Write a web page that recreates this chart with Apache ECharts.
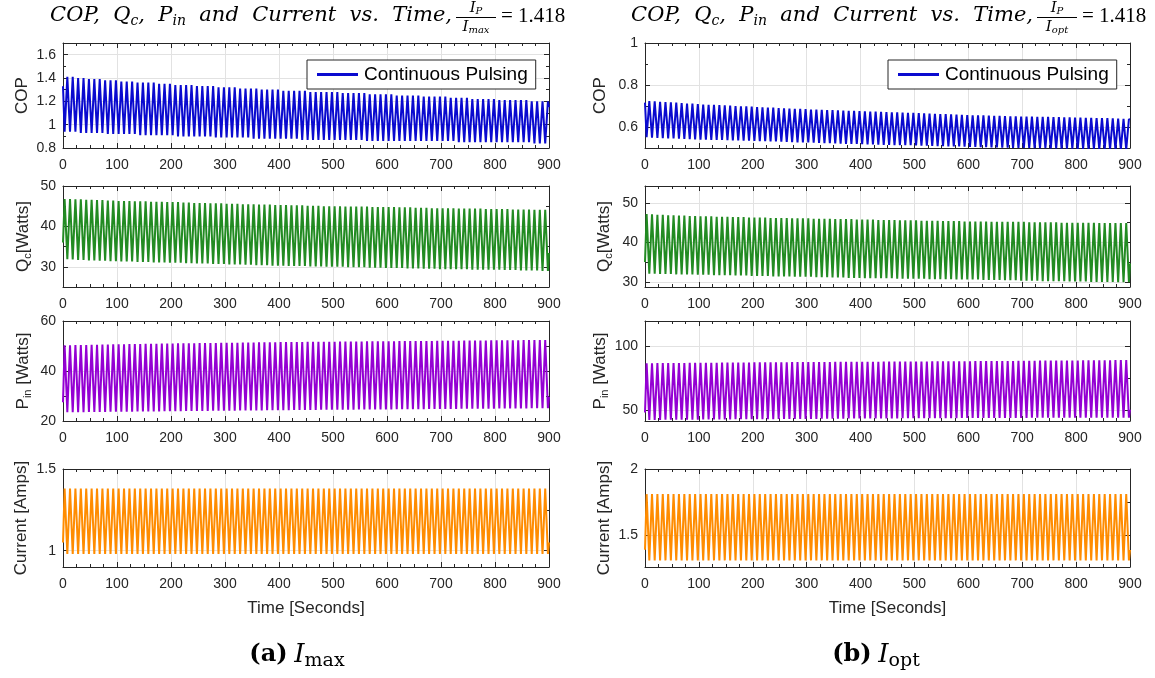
<!DOCTYPE html>
<html>
<head>
<meta charset="utf-8">
<script src="https://cdn.jsdelivr.net/npm/echarts@6/dist/echarts.min.js"></script>
<style>
  html, body { margin: 0; padding: 0; background: #fff; }
  #chart { width: 1155px; height: 678px; }
</style>
</head>
<body>
<div id="chart"></div>
<script>
// each pulse cycle lasts 10 s: one extreme at +3 s, the other at +8 s
const cycleLength = 10
const timeEnd = 900

// ---- (a) I_max ----
// COP: trough first, then peak
const copLowA = [
  0.94, 0.94, 0.94, 0.93, 0.93, 0.93, 0.93, 0.93, 0.92, 0.92,
  0.92, 0.92, 0.92, 0.92, 0.91, 0.91, 0.91, 0.91, 0.91, 0.91,
  0.91, 0.90, 0.90, 0.90, 0.90, 0.90, 0.90, 0.90, 0.89, 0.89,
  0.89, 0.89, 0.89, 0.89, 0.89, 0.88, 0.88, 0.88, 0.88, 0.88,
  0.88, 0.88, 0.88, 0.88, 0.87, 0.87, 0.87, 0.87, 0.87, 0.87,
  0.87, 0.87, 0.87, 0.87, 0.87, 0.87, 0.86, 0.86, 0.86, 0.86,
  0.86, 0.86, 0.86, 0.86, 0.86, 0.86, 0.86, 0.86, 0.86, 0.86,
  0.86, 0.86, 0.86, 0.85, 0.85, 0.85, 0.85, 0.85, 0.85, 0.85,
  0.85, 0.85, 0.85, 0.85, 0.85, 0.85, 0.85, 0.84, 0.84, 0.84
]
const copTopA = [
  1.41, 1.41, 1.40, 1.40, 1.39, 1.39, 1.39, 1.38, 1.38, 1.38,
  1.37, 1.37, 1.37, 1.36, 1.36, 1.36, 1.36, 1.35, 1.35, 1.35,
  1.34, 1.34, 1.34, 1.34, 1.33, 1.33, 1.33, 1.33, 1.32, 1.32,
  1.32, 1.32, 1.31, 1.31, 1.31, 1.31, 1.30, 1.30, 1.30, 1.30,
  1.29, 1.29, 1.29, 1.29, 1.29, 1.28, 1.28, 1.28, 1.28, 1.28,
  1.28, 1.27, 1.27, 1.27, 1.27, 1.27, 1.26, 1.26, 1.26, 1.26,
  1.26, 1.25, 1.25, 1.25, 1.25, 1.25, 1.24, 1.24, 1.24, 1.24,
  1.24, 1.23, 1.23, 1.23, 1.23, 1.22, 1.22, 1.22, 1.22, 1.22,
  1.21, 1.21, 1.21, 1.21, 1.21, 1.21, 1.20, 1.20, 1.20, 1.20
]
const copEdgeA = [1.33, 1.15]

// Qc, Pin, current: peak first, then trough
const qcTopA = [
  46.8, 46.8, 46.7, 46.7, 46.6, 46.6, 46.5, 46.5, 46.4, 46.4,
  46.3, 46.3, 46.3, 46.2, 46.2, 46.2, 46.1, 46.1, 46.1, 46.0,
  46.0, 46.0, 45.9, 45.9, 45.8, 45.8, 45.8, 45.7, 45.7, 45.7,
  45.6, 45.6, 45.6, 45.5, 45.5, 45.5, 45.4, 45.4, 45.4, 45.3,
  45.3, 45.3, 45.2, 45.2, 45.2, 45.1, 45.1, 45.1, 45.0, 45.0,
  45.0, 45.0, 44.9, 44.9, 44.9, 44.9, 44.9, 44.8, 44.8, 44.8,
  44.8, 44.8, 44.7, 44.7, 44.7, 44.6, 44.6, 44.6, 44.5, 44.5,
  44.5, 44.5, 44.5, 44.4, 44.4, 44.4, 44.4, 44.4, 44.3, 44.3,
  44.3, 44.3, 44.3, 44.2, 44.2, 44.2, 44.2, 44.1, 44.1, 44.1
]
const qcLowA = [
  31.9, 31.8, 31.7, 31.7, 31.6, 31.6, 31.5, 31.5, 31.4, 31.4,
  31.3, 31.3, 31.3, 31.2, 31.2, 31.2, 31.1, 31.1, 31.1, 31.0,
  31.0, 31.0, 30.9, 30.9, 30.8, 30.8, 30.8, 30.7, 30.7, 30.7,
  30.6, 30.6, 30.6, 30.5, 30.5, 30.4, 30.4, 30.4, 30.3, 30.3,
  30.3, 30.2, 30.2, 30.2, 30.2, 30.1, 30.1, 30.1, 30.0, 30.0,
  30.0, 30.0, 29.9, 29.9, 29.9, 29.9, 29.8, 29.8, 29.8, 29.7,
  29.7, 29.7, 29.7, 29.6, 29.6, 29.6, 29.5, 29.5, 29.5, 29.4,
  29.4, 29.4, 29.4, 29.4, 29.4, 29.3, 29.3, 29.3, 29.3, 29.3,
  29.3, 29.2, 29.2, 29.2, 29.1, 29.1, 29.1, 29.1, 29.0, 29.0
]
const qcEdgeA = [36.0, 33.4]

const pinTopA = [
  50.3, 50.3, 50.4, 50.4, 50.4, 50.5, 50.5, 50.6, 50.6, 50.7,
  50.7, 50.7, 50.8, 50.8, 50.8, 50.9, 50.9, 50.9, 51.0, 51.0,
  51.0, 51.1, 51.1, 51.1, 51.1, 51.2, 51.2, 51.2, 51.2, 51.3,
  51.3, 51.3, 51.3, 51.4, 51.4, 51.4, 51.5, 51.5, 51.5, 51.5,
  51.6, 51.6, 51.6, 51.6, 51.6, 51.7, 51.7, 51.7, 51.7, 51.7,
  51.7, 51.8, 51.8, 51.8, 51.8, 51.8, 51.9, 51.9, 51.9, 51.9,
  51.9, 51.9, 52.0, 52.0, 52.0, 52.0, 52.0, 52.0, 52.0, 52.1,
  52.1, 52.1, 52.1, 52.1, 52.2, 52.2, 52.2, 52.2, 52.2, 52.3,
  52.3, 52.3, 52.3, 52.3, 52.3, 52.4, 52.4, 52.4, 52.4, 52.4
]
const pinLowA = [
  23.5, 23.5, 23.5, 23.5, 23.6, 23.6, 23.6, 23.6, 23.7, 23.7,
  23.7, 23.7, 23.7, 23.8, 23.8, 23.8, 23.8, 23.8, 23.9, 23.9,
  23.9, 23.9, 24.0, 24.0, 24.0, 24.0, 24.0, 24.1, 24.1, 24.1,
  24.1, 24.1, 24.2, 24.2, 24.2, 24.2, 24.2, 24.3, 24.3, 24.3,
  24.3, 24.3, 24.4, 24.4, 24.4, 24.4, 24.4, 24.5, 24.5, 24.5,
  24.5, 24.5, 24.5, 24.5, 24.6, 24.6, 24.6, 24.6, 24.6, 24.6,
  24.6, 24.7, 24.7, 24.7, 24.7, 24.7, 24.7, 24.8, 24.8, 24.8,
  24.8, 24.8, 24.8, 24.9, 24.9, 24.9, 24.9, 24.9, 24.9, 24.9,
  25.0, 25.0, 25.0, 25.0, 25.0, 25.0, 25.1, 25.1, 25.1, 25.1
]
const pinEdgeA = [27.5, 29.6]

const ampTopA = [
  1.38, 1.38, 1.38, 1.38, 1.38, 1.38, 1.38, 1.38, 1.38, 1.38,
  1.38, 1.38, 1.38, 1.38, 1.38, 1.38, 1.38, 1.38, 1.38, 1.38,
  1.38, 1.38, 1.38, 1.38, 1.38, 1.38, 1.38, 1.38, 1.38, 1.38,
  1.38, 1.38, 1.38, 1.38, 1.38, 1.38, 1.38, 1.38, 1.38, 1.38,
  1.38, 1.38, 1.38, 1.38, 1.38, 1.38, 1.38, 1.38, 1.38, 1.38,
  1.38, 1.38, 1.38, 1.38, 1.38, 1.38, 1.38, 1.38, 1.38, 1.38,
  1.38, 1.38, 1.38, 1.38, 1.38, 1.38, 1.38, 1.38, 1.38, 1.38,
  1.38, 1.38, 1.38, 1.38, 1.38, 1.38, 1.38, 1.38, 1.38, 1.38,
  1.38, 1.38, 1.38, 1.38, 1.38, 1.38, 1.38, 1.38, 1.38, 1.38
]
const ampLowA = [
  0.98, 0.98, 0.98, 0.98, 0.98, 0.98, 0.98, 0.98, 0.98, 0.98,
  0.98, 0.98, 0.98, 0.98, 0.98, 0.98, 0.98, 0.98, 0.98, 0.98,
  0.98, 0.98, 0.98, 0.98, 0.98, 0.98, 0.98, 0.98, 0.98, 0.98,
  0.98, 0.98, 0.98, 0.98, 0.98, 0.98, 0.98, 0.98, 0.98, 0.98,
  0.98, 0.98, 0.98, 0.98, 0.98, 0.98, 0.98, 0.98, 0.98, 0.98,
  0.98, 0.98, 0.98, 0.98, 0.98, 0.98, 0.98, 0.98, 0.98, 0.98,
  0.98, 0.98, 0.98, 0.98, 0.98, 0.98, 0.98, 0.98, 0.98, 0.98,
  0.98, 0.98, 0.98, 0.98, 0.98, 0.98, 0.98, 0.98, 0.98, 0.98,
  0.98, 0.98, 0.98, 0.98, 0.98, 0.98, 0.98, 0.98, 0.98, 0.98
]
const ampEdgeA = [1.05, 1.05]

// ---- (b) I_opt ----
const copLowB = [
  0.551, 0.549, 0.548, 0.547, 0.546, 0.545, 0.544, 0.543, 0.542, 0.541,
  0.540, 0.540, 0.539, 0.538, 0.538, 0.537, 0.536, 0.536, 0.535, 0.535,
  0.534, 0.533, 0.532, 0.531, 0.531, 0.530, 0.529, 0.528, 0.527, 0.527,
  0.526, 0.525, 0.524, 0.523, 0.523, 0.522, 0.521, 0.520, 0.519, 0.519,
  0.518, 0.517, 0.517, 0.516, 0.515, 0.515, 0.514, 0.514, 0.513, 0.513,
  0.512, 0.511, 0.511, 0.510, 0.509, 0.509, 0.508, 0.507, 0.507, 0.506,
  0.505, 0.505, 0.504, 0.504, 0.503, 0.503, 0.502, 0.502, 0.501, 0.501,
  0.500, 0.500, 0.499, 0.499, 0.499, 0.498, 0.498, 0.497, 0.497, 0.497,
  0.496, 0.496, 0.495, 0.495, 0.494, 0.494, 0.494, 0.493, 0.493, 0.492
]
const copTopB = [
  0.724, 0.722, 0.720, 0.719, 0.717, 0.716, 0.714, 0.712, 0.711, 0.709,
  0.707, 0.706, 0.705, 0.704, 0.703, 0.702, 0.700, 0.699, 0.698, 0.697,
  0.695, 0.694, 0.693, 0.692, 0.690, 0.689, 0.688, 0.687, 0.686, 0.685,
  0.683, 0.683, 0.682, 0.681, 0.680, 0.679, 0.678, 0.677, 0.677, 0.676,
  0.675, 0.674, 0.673, 0.672, 0.671, 0.670, 0.670, 0.669, 0.668, 0.667,
  0.666, 0.665, 0.664, 0.663, 0.662, 0.661, 0.660, 0.659, 0.658, 0.657,
  0.656, 0.655, 0.655, 0.654, 0.653, 0.653, 0.652, 0.651, 0.651, 0.650,
  0.649, 0.649, 0.648, 0.648, 0.648, 0.647, 0.647, 0.646, 0.646, 0.645,
  0.645, 0.644, 0.644, 0.643, 0.642, 0.642, 0.641, 0.640, 0.639, 0.638
]
const copEdgeB = [0.716, 0.635]

const qcTopB = [
  47.2, 47.1, 47.0, 47.0, 46.9, 46.9, 46.8, 46.8, 46.7, 46.7,
  46.6, 46.6, 46.6, 46.5, 46.5, 46.5, 46.4, 46.4, 46.4, 46.3,
  46.3, 46.3, 46.3, 46.2, 46.2, 46.2, 46.2, 46.1, 46.1, 46.1,
  46.1, 46.0, 46.0, 46.0, 46.0, 45.9, 45.9, 45.9, 45.9, 45.8,
  45.8, 45.8, 45.8, 45.7, 45.7, 45.7, 45.7, 45.6, 45.6, 45.6,
  45.6, 45.5, 45.5, 45.5, 45.5, 45.4, 45.4, 45.4, 45.4, 45.3,
  45.3, 45.3, 45.3, 45.3, 45.2, 45.2, 45.2, 45.2, 45.2, 45.2,
  45.2, 45.1, 45.1, 45.1, 45.1, 45.1, 45.1, 45.0, 45.0, 45.0,
  45.0, 45.0, 45.0, 45.0, 44.9, 44.9, 44.9, 44.9, 44.9, 44.9
]
const qcLowB = [
  32.1, 32.1, 32.0, 32.0, 32.0, 31.9, 31.9, 31.9, 31.9, 31.8,
  31.8, 31.8, 31.7, 31.7, 31.7, 31.7, 31.6, 31.6, 31.6, 31.5,
  31.5, 31.5, 31.5, 31.4, 31.4, 31.4, 31.4, 31.3, 31.3, 31.3,
  31.3, 31.2, 31.2, 31.2, 31.1, 31.1, 31.1, 31.0, 31.0, 31.0,
  30.9, 30.9, 30.9, 30.9, 30.9, 30.9, 30.8, 30.8, 30.8, 30.8,
  30.8, 30.8, 30.7, 30.7, 30.7, 30.7, 30.7, 30.6, 30.6, 30.6,
  30.6, 30.6, 30.5, 30.5, 30.5, 30.5, 30.4, 30.4, 30.4, 30.3,
  30.3, 30.3, 30.3, 30.2, 30.2, 30.2, 30.2, 30.2, 30.1, 30.1,
  30.1, 30.1, 30.0, 30.0, 30.0, 30.0, 30.0, 29.9, 29.9, 29.9
]
const qcEdgeB = [35.0, 34.7]

const pinTopB = [
  86.9, 86.9, 87.0, 87.0, 87.0, 87.1, 87.1, 87.1, 87.2, 87.2,
  87.2, 87.3, 87.3, 87.3, 87.4, 87.4, 87.4, 87.5, 87.5, 87.5,
  87.6, 87.6, 87.6, 87.6, 87.7, 87.7, 87.7, 87.8, 87.8, 87.8,
  87.8, 87.9, 87.9, 87.9, 87.9, 88.0, 88.0, 88.0, 88.0, 88.1,
  88.1, 88.1, 88.1, 88.1, 88.2, 88.2, 88.2, 88.2, 88.2, 88.3,
  88.3, 88.3, 88.3, 88.4, 88.4, 88.4, 88.4, 88.5, 88.5, 88.5,
  88.5, 88.6, 88.6, 88.6, 88.6, 88.7, 88.7, 88.7, 88.7, 88.8,
  88.8, 88.8, 88.8, 88.9, 88.9, 88.9, 88.9, 89.0, 89.0, 89.0,
  89.0, 89.1, 89.1, 89.1, 89.2, 89.2, 89.2, 89.3, 89.3, 89.3
]
const pinLowB = [
  42.5, 42.5, 42.5, 42.6, 42.6, 42.6, 42.7, 42.7, 42.7, 42.7,
  42.8, 42.8, 42.8, 42.9, 42.9, 42.9, 43.0, 43.0, 43.0, 43.0,
  43.1, 43.1, 43.1, 43.1, 43.2, 43.2, 43.2, 43.2, 43.3, 43.3,
  43.3, 43.3, 43.4, 43.4, 43.4, 43.4, 43.4, 43.5, 43.5, 43.5,
  43.5, 43.5, 43.6, 43.6, 43.6, 43.6, 43.6, 43.7, 43.7, 43.7,
  43.7, 43.7, 43.8, 43.8, 43.8, 43.8, 43.8, 43.8, 43.9, 43.9,
  43.9, 43.9, 43.9, 43.9, 44.0, 44.0, 44.0, 44.0, 44.0, 44.0,
  44.0, 44.1, 44.1, 44.1, 44.1, 44.1, 44.1, 44.1, 44.1, 44.2,
  44.2, 44.2, 44.2, 44.2, 44.2, 44.2, 44.2, 44.2, 44.2, 44.2
]
const pinEdgeB = [48.2, 50.5]

const ampTopB = [
  1.81, 1.81, 1.81, 1.81, 1.81, 1.81, 1.81, 1.81, 1.81, 1.81,
  1.81, 1.81, 1.81, 1.81, 1.81, 1.81, 1.81, 1.81, 1.81, 1.81,
  1.81, 1.81, 1.81, 1.81, 1.81, 1.81, 1.81, 1.81, 1.81, 1.81,
  1.81, 1.81, 1.81, 1.81, 1.81, 1.81, 1.81, 1.81, 1.81, 1.81,
  1.81, 1.81, 1.81, 1.81, 1.81, 1.81, 1.81, 1.81, 1.81, 1.81,
  1.81, 1.81, 1.81, 1.81, 1.81, 1.81, 1.81, 1.81, 1.81, 1.81,
  1.81, 1.81, 1.81, 1.81, 1.81, 1.81, 1.81, 1.81, 1.81, 1.81,
  1.81, 1.81, 1.81, 1.81, 1.81, 1.81, 1.81, 1.81, 1.81, 1.81,
  1.81, 1.81, 1.81, 1.81, 1.81, 1.81, 1.81, 1.81, 1.81, 1.81
]
const ampLowB = [
  1.31, 1.31, 1.31, 1.31, 1.31, 1.31, 1.31, 1.31, 1.31, 1.31,
  1.31, 1.31, 1.31, 1.31, 1.31, 1.31, 1.31, 1.31, 1.31, 1.31,
  1.31, 1.31, 1.31, 1.31, 1.31, 1.31, 1.31, 1.31, 1.31, 1.31,
  1.31, 1.31, 1.31, 1.31, 1.31, 1.31, 1.31, 1.31, 1.31, 1.31,
  1.31, 1.31, 1.31, 1.31, 1.31, 1.31, 1.31, 1.31, 1.31, 1.31,
  1.31, 1.31, 1.31, 1.31, 1.31, 1.31, 1.31, 1.31, 1.31, 1.31,
  1.31, 1.31, 1.31, 1.31, 1.31, 1.31, 1.31, 1.31, 1.31, 1.31,
  1.31, 1.31, 1.31, 1.31, 1.31, 1.31, 1.31, 1.31, 1.31, 1.31,
  1.31, 1.31, 1.31, 1.31, 1.31, 1.31, 1.31, 1.31, 1.31, 1.31
]
const ampEdgeB = [1.39, 1.39]

// y ranges [min, max, label step]
const copRangeA = [0.8, 1.7, 0.2]
const qcRangeA = [25, 50, 10]
const pinRangeA = [20, 60, 20]
const ampRangeA = [0.9, 1.5, 0.5]
const copRangeB = [0.5, 1.0, 0.2]
const qcRangeB = [28.7, 54.3, 10]
const pinRangeB = [41.6, 120, 50]
const ampRangeB = [1.26, 2.0, 0.5]

function buildLine(edge, first, second) {
  const pts = [[0, edge[0]]]
  for (let k = 0; k < first.length; k++) {
    pts.push([k * cycleLength + 3, first[k]])
    pts.push([k * cycleLength + 8, second[k]])
  }
  pts.push([timeEnd, edge[1]])
  return pts
}

const ink = '#262626'
const sans = 'Liberation Sans'
const colLeft = [63, 645]
const colWidth = [486, 485]
const rowTop = [43, 186, 321, 469]
const rowHeight = [105, 101, 100, 98]

const panels = [
  { col: 0, row: 0, label: 'COP', gap: 32, range: copRangeA, color: '#0a0acf', data: buildLine(copEdgeA, copLowA, copTopA), legend: true },
  { col: 0, row: 1, label: 'Q{sub|c}[Watts]', gap: 30, range: qcRangeA, color: '#228b22', data: buildLine(qcEdgeA, qcTopA, qcLowA) },
  { col: 0, row: 2, label: 'P{sub|in} [Watts]', gap: 30, range: pinRangeA, color: '#9400d3', data: buildLine(pinEdgeA, pinTopA, pinLowA) },
  { col: 0, row: 3, label: 'Current [Amps]', gap: 33, range: ampRangeA, color: '#ff8c00', data: buildLine(ampEdgeA, ampTopA, ampLowA), time: true },
  { col: 1, row: 0, label: 'COP', gap: 36, range: copRangeB, color: '#0a0acf', data: buildLine(copEdgeB, copLowB, copTopB), legend: true },
  { col: 1, row: 1, label: 'Q{sub|c}[Watts]', gap: 31, range: qcRangeB, color: '#228b22', data: buildLine(qcEdgeB, qcTopB, qcLowB) },
  { col: 1, row: 2, label: 'P{sub|in} [Watts]', gap: 31, range: pinRangeB, color: '#9400d3', data: buildLine(pinEdgeB, pinTopB, pinLowB) },
  { col: 1, row: 3, label: 'Current [Amps]', gap: 32, range: ampRangeB, color: '#ff8c00', data: buildLine(ampEdgeB, ampTopB, ampLowB), time: true }
]

function stepLabel(step) {
  return function (v) {
    const r = v / step
    if (Math.abs(r - Math.round(r)) > 1e-6) return ''
    return String(parseFloat(v.toFixed(4)))
  }
}

const tickCommon = {
  axisLine: { show: true, onZero: false, lineStyle: { color: ink, width: 1 } },
  axisTick: { show: true, inside: true, length: 5, lineStyle: { color: ink } },
  minorTick: { show: true, length: 3, lineStyle: { color: ink } }
}

const grid = [], xAxis = [], yAxis = [], series = [], legend = []

panels.forEach(function (p, i) {
  grid.push({ left: colLeft[p.col], top: rowTop[p.row], width: colWidth[p.col], height: rowHeight[p.row] })
  const xBase = Object.assign({}, tickCommon, {
    type: 'value', gridIndex: i, min: 0, max: timeEnd, interval: 100,
    minorTick: Object.assign({}, tickCommon.minorTick, { splitNumber: 4 })
  })
  xAxis.push(Object.assign({}, xBase, {
    position: 'bottom',
    axisLabel: { color: ink, fontFamily: sans, fontSize: 14, margin: 10 },
    splitLine: { show: true, lineStyle: { color: '#e2e2e2' } },
    name: p.time ? 'Time [Seconds]' : '',
    nameLocation: 'middle', nameGap: 33,
    nameTextStyle: { color: ink, fontFamily: sans, fontSize: 17 }
  }))
  xAxis.push(Object.assign({}, xBase, { position: 'top', axisLabel: { show: false }, splitLine: { show: false } }))

  const yBase = Object.assign({}, tickCommon, {
    type: 'value', gridIndex: i, min: p.range[0], max: p.range[1],
    minInterval: p.range[2], maxInterval: p.range[2],
    minorTick: Object.assign({}, tickCommon.minorTick, { splitNumber: 2 })
  })
  yAxis.push(Object.assign({}, yBase, {
    position: 'left',
    axisLabel: { color: ink, fontFamily: sans, fontSize: 14, margin: 7, formatter: stepLabel(p.range[2]) },
    splitLine: { show: true, lineStyle: { color: '#e2e2e2' } },
    name: p.label, nameLocation: 'middle', nameGap: p.gap,
    nameTextStyle: {
      color: ink, fontFamily: sans, fontSize: 17,
      rich: { sub: { fontSize: 11, fontFamily: sans, color: ink, padding: [9, 0, 0, 0] } }
    }
  }))
  yAxis.push(Object.assign({}, yBase, { position: 'right', axisLabel: { show: false }, splitLine: { show: false } }))

  series.push({
    type: 'line', name: p.legend ? 'Continuous Pulsing' : 'series' + i,
    xAxisIndex: 2 * i, yAxisIndex: 2 * i,
    data: p.data, symbol: 'none', showSymbol: false, clip: true,
    lineStyle: { color: p.color, width: 2 }, itemStyle: { color: p.color },
    animation: false
  })

  if (p.legend) {
    legend.push({
      data: [{ name: 'Continuous Pulsing', icon: 'rect' }],
      left: colLeft[p.col] + colWidth[p.col] - 242, top: rowTop[p.row] + 17,
      backgroundColor: '#fff', borderColor: ink, borderWidth: 1, borderRadius: 0,
      padding: [5, 8, 5, 10], itemWidth: 41, itemHeight: 3,
      textStyle: { color: '#000', fontFamily: sans, fontSize: 19, padding: [0, 0, 0, 1] },
      selectedMode: false
    })
  }
})

const serif = '"DejaVu Serif"'
function titleParts(rightEdge, fracCenter, denom) {
  return [
    {
      type: 'text', x: rightEdge, y: 16,
      style: {
        text: 'COP,  Q{s|c},  P{s|in}  and  Current  vs.  Time,',
        fontFamily: serif, fontStyle: 'italic', fontSize: 21, fill: '#000',
        align: 'right', verticalAlign: 'middle',
        rich: { s: { fontFamily: serif, fontStyle: 'italic', fontSize: 14, padding: [10, 0, 0, 0] } }
      }
    },
    {
      type: 'text', x: fracCenter, y: 8,
      style: {
        text: 'I{s|P}', fontFamily: serif, fontStyle: 'italic', fontSize: 15, fill: '#000',
        align: 'center', verticalAlign: 'middle',
        rich: { s: { fontFamily: serif, fontStyle: 'italic', fontSize: 10, padding: [6, 0, 0, 0] } }
      }
    },
    {
      type: 'line', shape: { x1: fracCenter - 20, y1: 17.5, x2: fracCenter + 20, y2: 17.5 },
      style: { stroke: '#000', lineWidth: 1 }
    },
    {
      type: 'text', x: fracCenter, y: 27,
      style: {
        text: 'I{s|' + denom + '}', fontFamily: serif, fontStyle: 'italic', fontSize: 15, fill: '#000',
        align: 'center', verticalAlign: 'middle',
        rich: { s: { fontFamily: serif, fontStyle: 'italic', fontSize: 10, padding: [6, 0, 0, 0] } }
      }
    },
    {
      type: 'text', x: fracCenter + 25, y: 16,
      style: {
        text: '= 1.418', fontFamily: '"Liberation Serif"', fontSize: 21, fill: '#000',
        align: 'left', verticalAlign: 'middle'
      }
    }
  ]
}

function caption(cx, tag, sub) {
  return {
    type: 'text', x: cx, y: 655,
    style: {
      text: '{b|' + tag + '}  {i|I}{s|' + sub + '}',
      fill: '#000', align: 'center', verticalAlign: 'middle',
      rich: {
        b: { fontFamily: serif, fontWeight: 'bold', fontSize: 24 },
        i: { fontFamily: serif, fontStyle: 'italic', fontSize: 26 },
        s: { fontFamily: serif, fontSize: 19, padding: [13, 0, 0, 0] }
      }
    }
  }
}

const graphic = []
  .concat(titleParts(452, 476, 'max'))
  .concat(titleParts(1033, 1057, 'opt'))
  .concat([caption(297, '(a)', 'max'), caption(876, '(b)', 'opt')])

const chart = echarts.init(document.getElementById('chart'), null, { renderer: 'canvas' })
chart.setOption({
  animation: false,
  backgroundColor: '#fff',
  grid: grid,
  xAxis: xAxis,
  yAxis: yAxis,
  series: series,
  legend: legend,
  graphic: graphic
})
</script>
</body>
</html>
